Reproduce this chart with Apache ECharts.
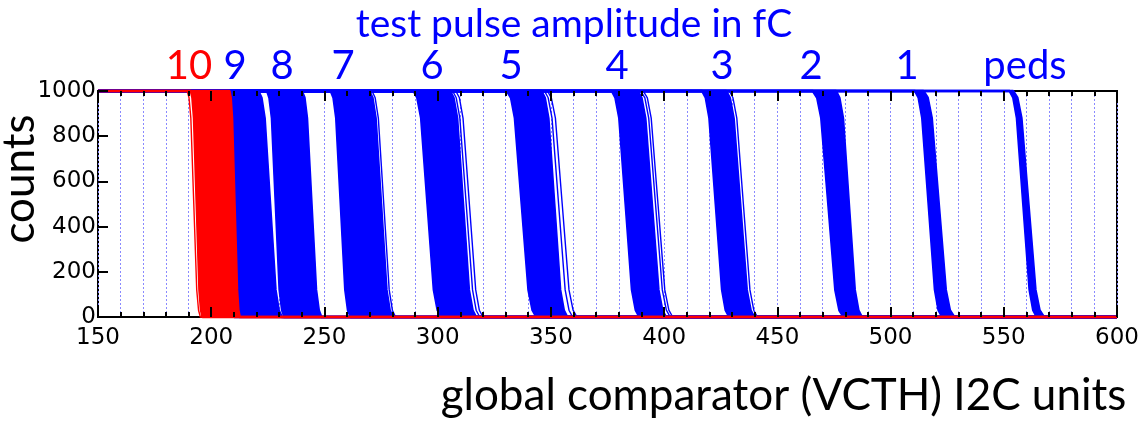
<!DOCTYPE html>
<html>
<head>
<meta charset="utf-8">
<script src="https://cdn.jsdelivr.net/npm/echarts@6/dist/echarts.min.js"></script>
<style>
  html, body { margin: 0; padding: 0; background: #fff; }
  #chart { width: 1139px; height: 422px; }
</style>
</head>
<body>
<div id="chart"></div>
<script>
// Count levels at which the extreme channel curves of every band are sampled
const levels = [1000, 970, 880, 500, 120, 30, 0];

// VCTH value of the leftmost / rightmost channel curve of each band at those levels
const left10  = [191.0, 191.7, 192.4, 193.6, 194.8, 195.5, 196.2];
const right10 = [208.0, 208.6, 209.2, 210.3, 211.4, 212.0, 212.6];
const stray10 = [[189.4, 190.2, 191.0, 192.3, 193.6, 194.4, 195.2]];

const left9  = [199.8, 201.2, 202.6, 205.0, 207.4, 208.8, 210.2];
const right9 = [220.8, 222.2, 223.6, 226.0, 228.4, 229.8, 231.2];

const left8  = [224.7, 225.7, 226.8, 228.5, 230.2, 231.3, 232.3];
const right8 = [240.0, 241.2, 242.3, 244.3, 246.3, 247.5, 248.6];

const left7  = [252.8, 254.0, 255.2, 257.2, 259.2, 260.4, 261.6];
const right7 = [269.8, 271.2, 272.6, 275.0, 277.4, 278.8, 280.2];
const stray7 = [[271.0, 272.4, 273.8, 276.2, 278.6, 280.0, 281.4]];

const left6  = [289.4, 291.0, 292.7, 295.5, 298.3, 300.0, 301.6];
const right6 = [305.5, 307.0, 308.6, 311.2, 313.8, 315.4, 316.9];
const stray6 = [[306.6, 308.2, 309.8, 312.6, 315.4, 317.0, 318.6],
                [308.0, 309.6, 311.2, 314.0, 316.8, 318.4, 320.0]];

const left5  = [330.6, 332.4, 334.1, 337.1, 340.1, 341.9, 343.6];
const right5 = [345.8, 347.3, 348.9, 351.5, 354.1, 355.7, 357.2];
const stray5 = [[347.2, 348.8, 350.5, 353.4, 356.3, 358.0, 359.6],
                [348.5, 350.2, 352.0, 355.0, 358.0, 359.8, 361.5]];

const left4  = [376.9, 378.5, 380.2, 383.0, 385.8, 387.5, 389.1];
const right4 = [388.4, 390.0, 391.7, 394.6, 397.5, 399.2, 400.8];
const stray4 = [[389.7, 391.5, 393.2, 396.2, 399.2, 401.0, 402.7],
                [390.8, 392.6, 394.3, 397.3, 400.3, 402.1, 403.8]];

const left3  = [416.8, 418.4, 420.0, 422.8, 425.6, 427.2, 428.8];
const right3 = [427.4, 429.0, 430.7, 433.6, 436.5, 438.2, 439.8];
const stray3 = [[428.8, 430.4, 432.1, 435.0, 437.9, 439.6, 441.2]];

const left2  = [465.7, 467.6, 469.4, 472.5, 475.6, 477.4, 479.3];
const right2 = [475.9, 477.4, 479.0, 481.6, 484.2, 485.8, 487.3];

const left1  = [510.8, 512.4, 514.0, 516.8, 519.6, 521.2, 522.8];
const right1 = [514.5, 516.4, 518.2, 521.3, 524.4, 526.2, 528.1];

const leftPeds  = [552.6, 554.2, 555.8, 558.6, 561.4, 563.0, 564.6];
const rightPeds = [554.1, 556.0, 557.8, 560.9, 564.0, 565.8, 567.7];

// Test pulse amplitude captions above the plot
const pulseLabels = ['10', '9', '8', '7', '6', '5', '4', '3', '2', '1', 'peds'];
const xTicks = { min: 150, max: 600, step: 50 };
const yTicks = { min: 0, max: 1000, step: 200 };

const BLUE = '#0000ff';
const RED = '#ff0000';

// A full S-curve: flat at the top before threshold, flat at zero after it
function curvePoints(edge) {
  return [[xTicks.min, levels[0]]]
    .concat(edge.map((x, i) => [x, levels[i]]))
    .concat([[xTicks.max, levels[levels.length - 1]]]);
}

function curveSeries(edge, color, width, z) {
  return {
    type: 'line', data: curvePoints(edge), symbol: 'none', silent: true,
    clip: false, lineStyle: { color: color, width: width, join: 'round' }, z: z
  };
}

// Solid region covered by all channel curves between the two extremes
function bandFill(left, right, color, z) {
  const pts = left.map((x, i) => [x, levels[i]])
    .concat(right.map((x, i) => [x, levels[i]]).reverse());
  return {
    type: 'custom', silent: true, clip: true, z: z,
    data: pts, encode: { x: 0, y: 1 },
    renderItem: function (params, api) {
      if (params.dataIndex !== 0) return null;
      return {
        type: 'polygon',
        shape: { points: pts.map(p => api.coord(p)) },
        style: { fill: color, stroke: color, lineWidth: 1, lineJoin: 'round' }
      };
    }
  };
}

function bandSeries(left, right, strays, color, z) {
  const out = [bandFill(left, right, color, z),
               curveSeries(left, color, 2.5, z), curveSeries(right, color, 2.5, z)];
  (strays || []).forEach(s => out.push(curveSeries(s, color, 1.4, z)));
  return out;
}

const series = [].concat(
  bandSeries(leftPeds, rightPeds, [], BLUE, 3),
  bandSeries(left1, right1, [], BLUE, 3),
  bandSeries(left2, right2, [], BLUE, 3),
  bandSeries(left3, right3, stray3, BLUE, 3),
  bandSeries(left4, right4, stray4, BLUE, 3),
  bandSeries(left5, right5, stray5, BLUE, 3),
  bandSeries(left6, right6, stray6, BLUE, 3),
  bandSeries(left7, right7, stray7, BLUE, 3),
  bandSeries(left8, right8, [], BLUE, 3),
  bandSeries(left9, right9, [], BLUE, 3),
  // the 10 fC band is drawn over everything else
  bandSeries(left10, right10, stray10, RED, 5)
);

const tickStyle = { color: '#000', width: 2 };
const labelFont = { fontFamily: 'DejaVu Sans', fontSize: 23, color: '#000' };
const gridDash = { color: '#8a8aff', width: 1, type: [2, 2] };

const chart = echarts.init(document.getElementById('chart'), null, { renderer: 'canvas' });

// caption positions (pixel centres) for the amplitude labels
const captionX = [189, 235, 282, 343, 432, 511, 617, 722, 811, 907, 1025];

chart.setOption({
  animation: false,
  backgroundColor: '#fff',
  grid: {
    left: 98, right: 22, top: 91, bottom: 105,
    containLabel: false, outerBoundsMode: 'none',
    show: true, borderColor: '#000', borderWidth: 2, backgroundColor: 'transparent'
  },
  xAxis: [
    {
      type: 'value', position: 'bottom', min: xTicks.min, max: xTicks.max, interval: xTicks.step,
      z: 10,
      axisLine: { show: false },
      axisTick: { show: true, inside: true, length: 10, lineStyle: tickStyle },
      minorTick: { show: true, splitNumber: 5, length: 5, lineStyle: tickStyle },
      axisLabel: Object.assign({ margin: 10, formatter: v => String(v) }, labelFont),
      splitLine: { show: false },
      name: 'global comparator (VCTH) I2C units',
      nameLocation: 'middle', nameGap: 57, nameMoveOverlap: false,
      nameTextStyle: { fontFamily: 'Lato', fontSize: 44, color: '#000', padding: [0, 0, 0, 352] }
    },
    {
      type: 'value', position: 'top', min: xTicks.min, max: xTicks.max, interval: xTicks.step,
      z: 10,
      axisLine: { show: false },
      axisTick: { show: true, inside: true, length: 10, lineStyle: tickStyle },
      minorTick: { show: true, splitNumber: 5, length: 5, lineStyle: tickStyle },
      axisLabel: { show: false },
      splitLine: { show: false }
    },
    {
      type: 'value', position: 'bottom', min: xTicks.min, max: xTicks.max, interval: xTicks.step,
      z: 0,
      axisLine: { show: false }, axisTick: { show: false }, axisLabel: { show: false },
      minorTick: { show: false, splitNumber: 5 },
      splitLine: { show: true, lineStyle: gridDash },
      minorSplitLine: { show: true, lineStyle: gridDash }
    }
  ],
  yAxis: [
    {
      type: 'value', position: 'left', min: yTicks.min, max: yTicks.max, interval: yTicks.step,
      z: 10,
      axisLine: { show: false },
      axisTick: { show: true, inside: true, length: 10, lineStyle: tickStyle },
      axisLabel: Object.assign({ margin: 2, formatter: v => String(v) }, labelFont),
      splitLine: { show: false },
      name: 'counts', nameLocation: 'middle', nameRotate: 90, nameGap: 56, nameMoveOverlap: false,
      nameTextStyle: { fontFamily: 'Lato', fontSize: 44, color: '#000', padding: [0, 0, 0, 50] }
    }
  ],
  graphic: [
    {
      type: 'text', z: 20,
      style: { text: 'test pulse amplitude in fC', x: 574, y: 24, align: 'center', verticalAlign: 'middle',
               font: '39px Lato', fill: BLUE }
    }
  ].concat(pulseLabels.map((t, i) => ({
    type: 'text', z: 20,
    style: { text: t, x: captionX[i], y: 66, align: 'center', verticalAlign: 'middle',
             font: '40px Lato', fill: i === 0 ? RED : BLUE }
  }))),
  series: series
});
</script>
</body>
</html>
